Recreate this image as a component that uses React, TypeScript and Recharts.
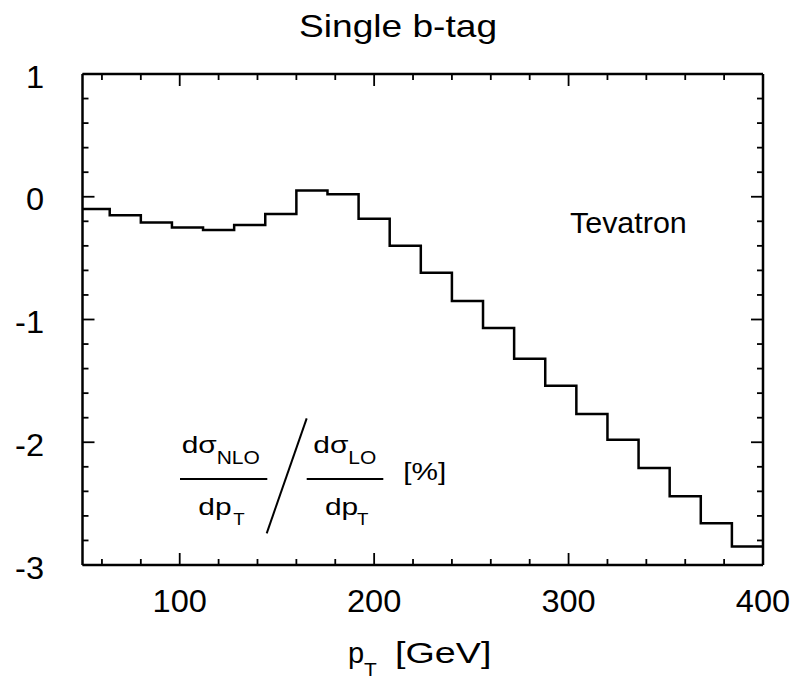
import React from 'react';
import { LineChart, Line, XAxis, YAxis, Customized } from 'recharts';

// bin low edges in GeV (16 GeV bins, first one starts below the axis range)
const BIN_LOW = [48, 64, 80, 96, 112, 128, 144, 160, 176, 192, 208, 224, 240, 256, 272, 288, 304, 320, 336, 352, 368, 384];
const BIN_HIGH_END = 400;
// dσ_NLO / dσ_LO correction in %
const CORRECTION = [
  -0.10, -0.15, -0.21, -0.25, -0.27, -0.23, -0.14, 0.05, 0.02, -0.18, -0.40,
  -0.62, -0.85, -1.07, -1.32, -1.54, -1.77, -1.98, -2.21, -2.44, -2.66, -2.85,
];

const X_TICKS = [60, 80, 100, 120, 140, 160, 180, 200, 220, 240, 260, 280, 300, 320, 340, 360, 380, 400];
const X_LABELS = [100, 200, 300, 400];
const Y_TICKS = [-3, -2.8, -2.6, -2.4, -2.2, -2, -1.8, -1.6, -1.4, -1.2, -1, -0.8, -0.6, -0.4, -0.2, 0, 0.2, 0.4, 0.6, 0.8, 1];
const Y_LABELS = [-3, -2, -1, 0, 1];

const FONT = '"Liberation Sans", Arial, Helvetica, sans-serif';

const data = [
  ...BIN_LOW.map((pt, i) => ({ pt, v: CORRECTION[i] })),
  { pt: BIN_HIGH_END, v: CORRECTION[CORRECTION.length - 1] },
];

const isLabel = (list: number[], v: number) => list.some((l) => Math.abs(l - v) < 1e-6);

// text whose glyphs are a bit wider than Arial, like the original postscript font
const Txt = ({ x, y, size, sx = 1, anchor = 'start', children }: any) => (
  <text
    transform={`translate(${x},${y}) scale(${sx},1)`}
    fontSize={size}
    fontFamily={FONT}
    textAnchor={anchor}
    fill="#000"
  >
    {children}
  </text>
);

const BottomTick = (props: any) => {
  const { x, y, payload } = props;
  const major = isLabel(X_LABELS, payload.value);
  return (
    <g>
      <line x1={x} x2={x} y1={y} y2={y - (major ? 12 : 6)} stroke="#000" strokeWidth={1.8} />
      {major && (
        <Txt x={x} y={y + 47} size={31} sx={1.05} anchor="middle">
          {payload.value}
        </Txt>
      )}
    </g>
  );
};

const TopTick = (props: any) => {
  const { x, y, payload } = props;
  const major = isLabel(X_LABELS, payload.value);
  return <line x1={x} x2={x} y1={y} y2={y + (major ? 12 : 6)} stroke="#000" strokeWidth={1.8} />;
};

const LeftTick = (props: any) => {
  const { x, y, payload } = props;
  const major = isLabel(Y_LABELS, payload.value);
  return (
    <g>
      <line x1={x} x2={x + (major ? 12 : 6)} y1={y} y2={y} stroke="#000" strokeWidth={1.8} />
      {major && (
        <Txt x={x - 38.5} y={y + 13.5} size={31} sx={1.05} anchor="end">
          {Math.round(payload.value)}
        </Txt>
      )}
    </g>
  );
};

const RightTick = (props: any) => {
  const { x, y, payload } = props;
  const major = isLabel(Y_LABELS, payload.value);
  return <line x1={x} x2={x - (major ? 12 : 6)} y1={y} y2={y} stroke="#000" strokeWidth={1.8} />;
};

const Annotations = () => (
  <g>
    <Txt x={299} y={37} size={32} sx={1.16}>Single b-tag</Txt>
    <Txt x={570} y={233} size={29} sx={1.05}>Tevatron</Txt>

    {/* x-axis title */}
    <Txt x={348} y={663} size={29}>p</Txt>
    <Txt x={364} y={676} size={19} sx={1.1}>T</Txt>
    <Txt x={395} y={663} size={29} sx={1.3}>[GeV]</Txt>

    {/* ratio label */}
    <Txt x={181.7} y={453} size={23} sx={1.3}>dσ</Txt>
    <Txt x={216.7} y={464} size={17.5} sx={1.2}>NLO</Txt>
    <line x1={180} x2={267.3} y1={479} y2={479} stroke="#000" strokeWidth={2} />
    <Txt x={198.3} y={515} size={23} sx={1.3}>dp</Txt>
    <Txt x={233.3} y={525} size={17} sx={1.1}>T</Txt>

    <line x1={266.7} y1={533.3} x2={306.7} y2={418.3} stroke="#000" strokeWidth={2} />

    <Txt x={313.3} y={453} size={23} sx={1.3}>dσ</Txt>
    <Txt x={348.3} y={464} size={17.5} sx={1.2}>LO</Txt>
    <line x1={306.7} x2={383.3} y1={479} y2={479} stroke="#000" strokeWidth={2} />
    <Txt x={325} y={515} size={23} sx={1.3}>dp</Txt>
    <Txt x={357} y={525} size={17} sx={1.1}>T</Txt>

    <Txt x={403.3} y={480} size={24} sx={1.24}>[%]</Txt>
  </g>
);

const frame = { stroke: '#000', strokeWidth: 2.5 };

export default function App() {
  return (
    <div style={{ position: 'absolute', left: 0, top: 0, background: '#fff' }}>
      <LineChart width={799} height={684} data={data} margin={{ top: 73, right: 35, bottom: 59, left: 0.5 }}>
        <XAxis
          dataKey="pt"
          type="number"
          domain={[50, 400]}
          allowDataOverflow
          ticks={X_TICKS}
          interval={0}
          height={60}
          tickSize={0}
          tickMargin={0}
          tickLine={false}
          axisLine={frame}
          tick={<BottomTick />}
        />
        <XAxis
          xAxisId="top"
          orientation="top"
          dataKey="pt"
          type="number"
          domain={[50, 400]}
          allowDataOverflow
          ticks={X_TICKS}
          interval={0}
          height={1}
          tickSize={0}
          tickMargin={0}
          tickLine={false}
          axisLine={frame}
          tick={<TopTick />}
        />
        <YAxis
          type="number"
          domain={[-3, 1]}
          allowDataOverflow
          ticks={Y_TICKS}
          interval={0}
          width={82}
          tickSize={0}
          tickMargin={0}
          tickLine={false}
          axisLine={frame}
          tick={<LeftTick />}
        />
        <YAxis
          yAxisId="right"
          orientation="right"
          type="number"
          domain={[-3, 1]}
          allowDataOverflow
          ticks={Y_TICKS}
          interval={0}
          width={1}
          tickSize={0}
          tickMargin={0}
          tickLine={false}
          axisLine={frame}
          tick={<RightTick />}
        />
        <Line
          dataKey="v"
          type="stepAfter"
          stroke="#000"
          strokeWidth={2.5}
          dot={false}
          activeDot={false}
          isAnimationActive={false}
        />
        <Customized component={<Annotations />} />
      </LineChart>
    </div>
  );
}
